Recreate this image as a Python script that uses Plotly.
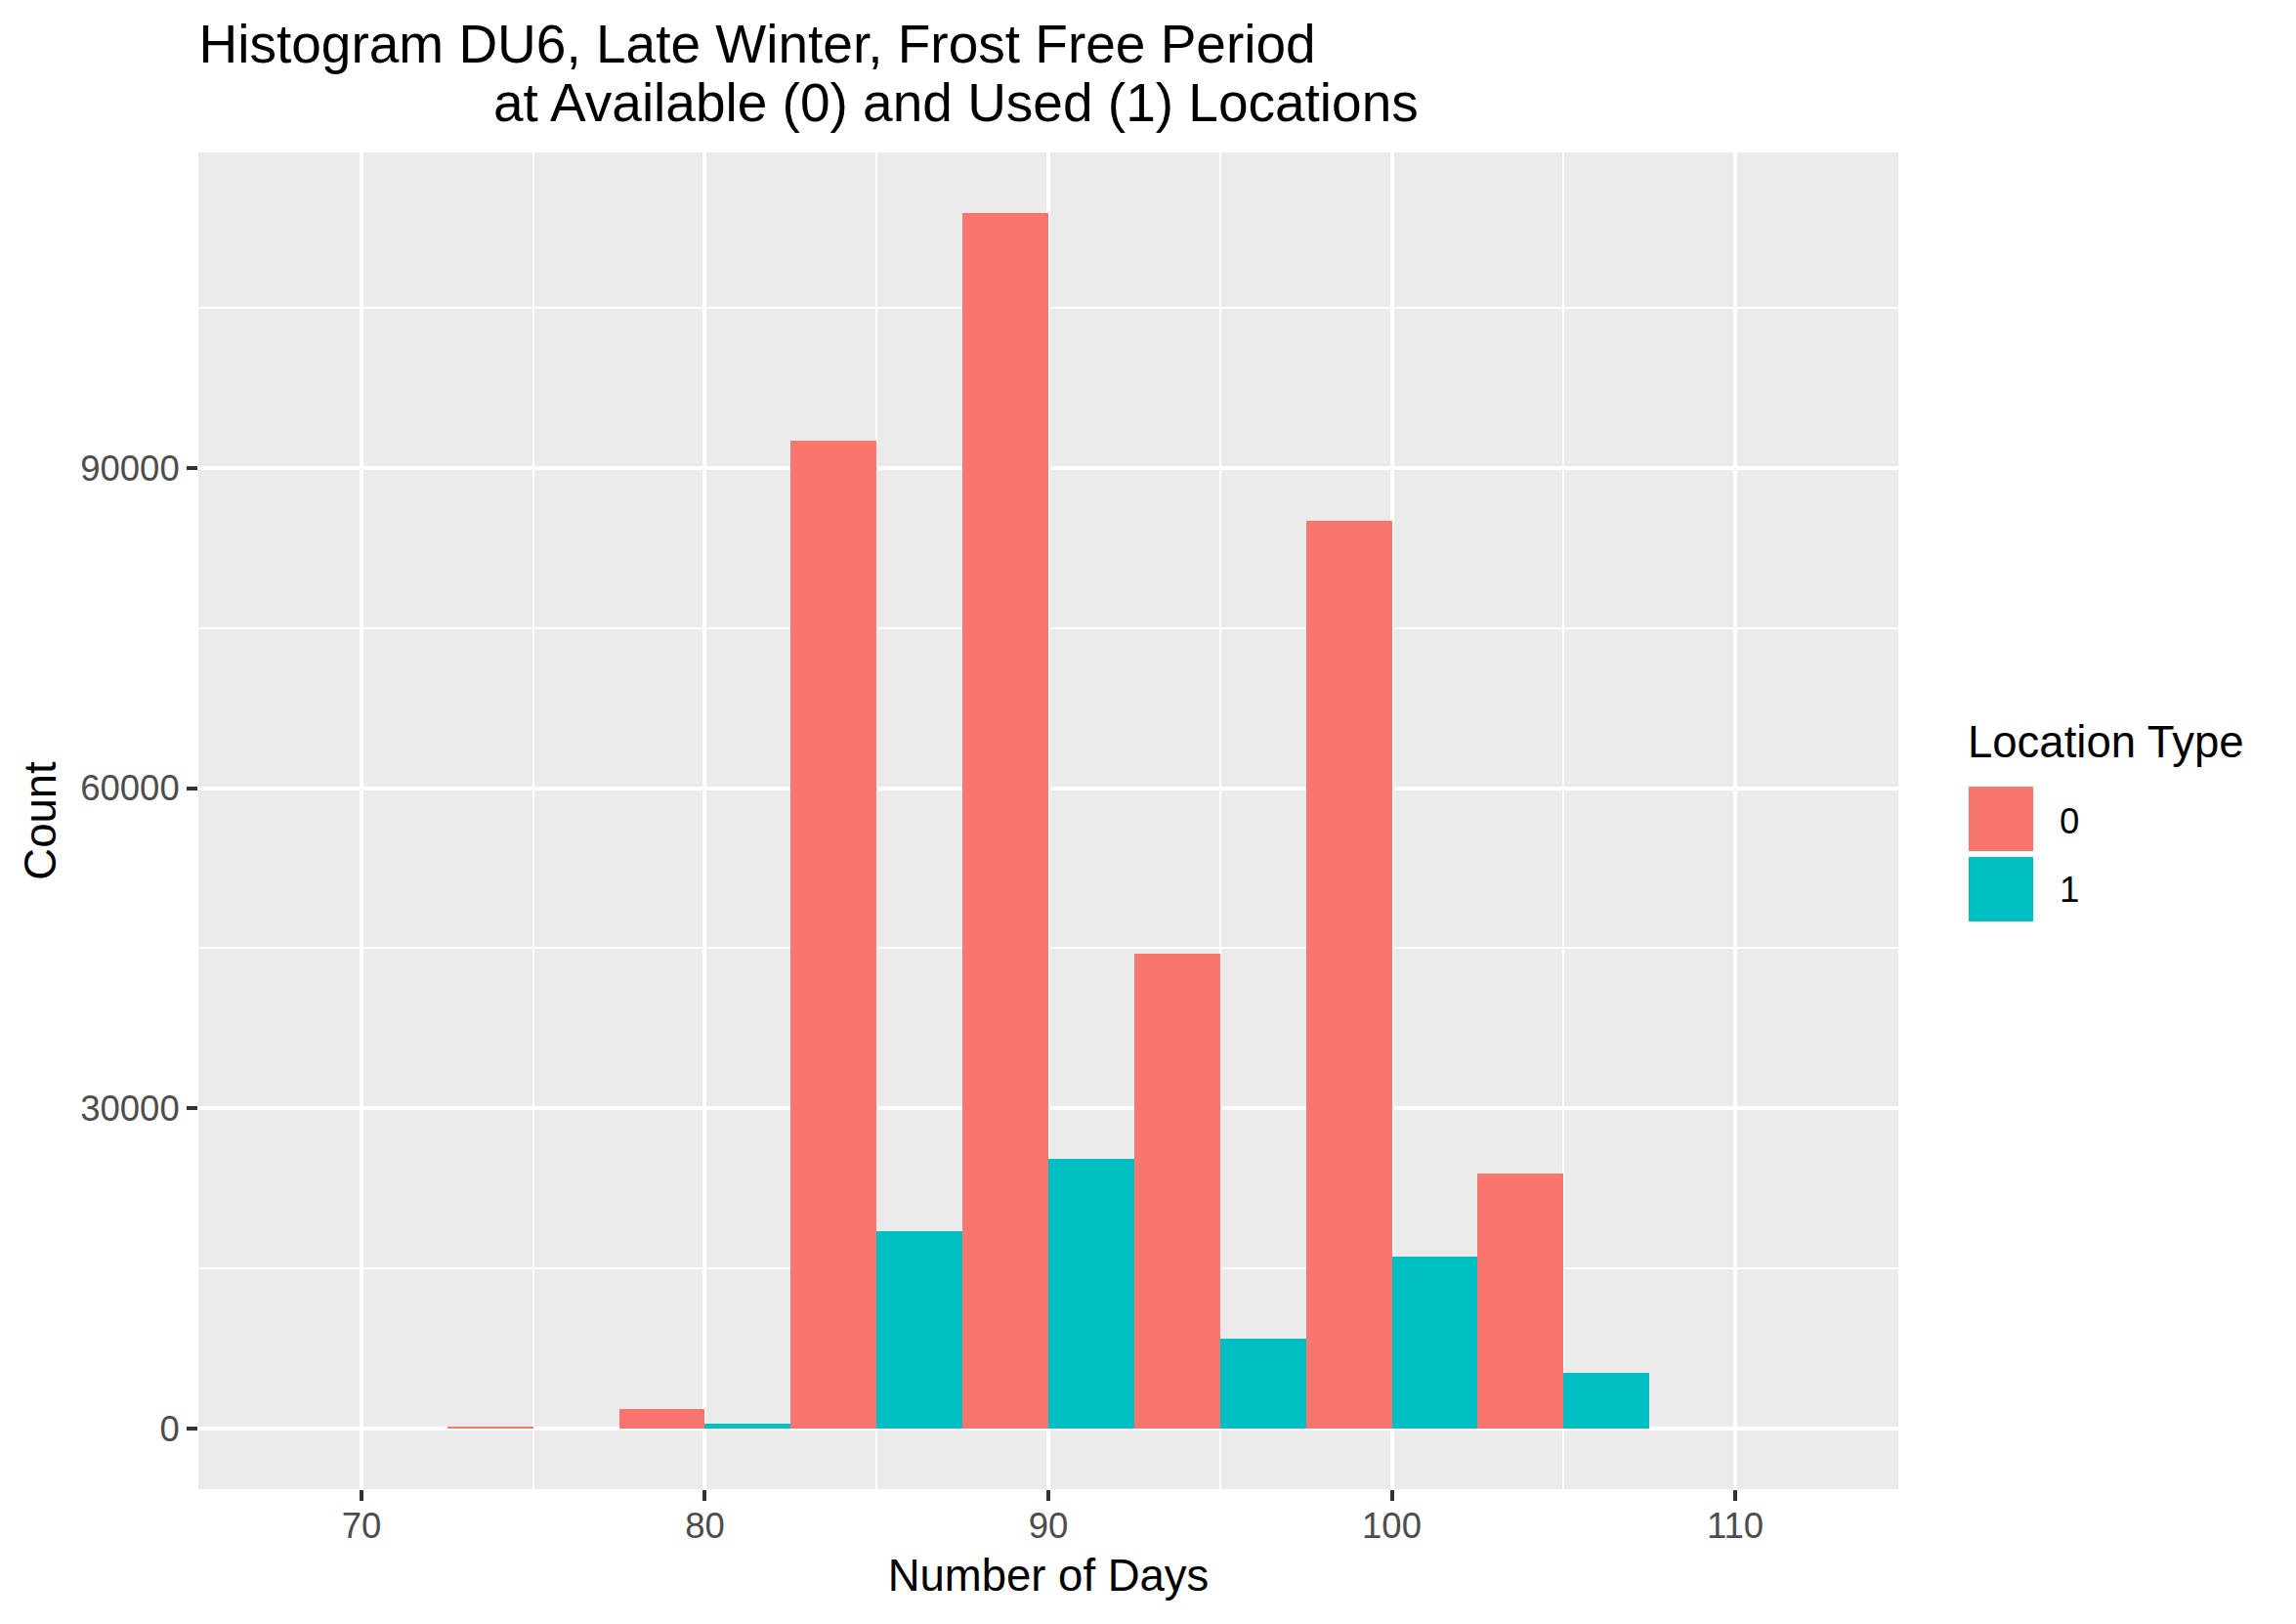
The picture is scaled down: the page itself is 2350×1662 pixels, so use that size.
import plotly.graph_objects as go

# histogram bins (bin centres, width 5 days) and counts per location type
bin_centres = [70, 75, 80, 85, 90, 95, 100, 105, 110]
counts_avail = [0, 100, 1800, 92540, 113870, 44470, 85030, 23870, 0]
counts_used = [0, 0, 480, 18470, 25240, 8400, 16090, 5190, 0]
group_names = ["0", "1"]
group_colors = ["#F8766D", "#00BFC4"]

x_ticks = [70, 80, 90, 100, 110]
y_ticks = [0, 30000, 60000, 90000]

FONT = "Liberation Sans, Arial, sans-serif"
W, H = 2350, 1662
L, R, T, B = 203, 407, 156, 138
PW, PH = W - L - R, H - T - B


def px_x(p):
    return (p - L) / PW


def px_y(p):
    return (H - B - p) / PH


fig = go.Figure()
for name, col, vals in zip(group_names, group_colors, [counts_avail, counts_used]):
    fig.add_trace(
        go.Bar(
            x=bin_centres,
            y=vals,
            name=name,
            marker={"color": col, "line": {"width": 0}},
            showlegend=False,
        )
    )

# ggplot-like legend, drawn by hand so the keys are big squares
fig.add_annotation(
    x=px_x(2012), y=px_y(759), xref="paper", yref="paper",
    text="Location Type", showarrow=False, xanchor="left", yanchor="middle",
    font={"size": 45.5, "color": "black", "family": FONT},
)
key_tops = [805, 877]
label_mid = [840, 911]
for col, name, kt, lm in zip(group_colors, group_names, key_tops, label_mid):
    fig.add_shape(
        type="rect", xref="paper", yref="paper",
        x0=px_x(2015), x1=px_x(2081), y0=px_y(kt + 66), y1=px_y(kt),
        fillcolor=col, line={"width": 0},
    )
    fig.add_annotation(
        x=px_x(2106), y=px_y(lm), xref="paper", yref="paper",
        text=name, showarrow=False, xanchor="left", yanchor="middle",
        font={"size": 36.5, "color": "black", "family": FONT},
    )

# second title line, indented as in the original
fig.add_annotation(
    x=px_x(503), y=px_y(104.5), xref="paper", yref="paper",
    text="at Available (0) and Used (1) Locations", showarrow=False,
    xanchor="left", yanchor="middle",
    font={"size": 55, "color": "black", "family": FONT},
)

fig.update_layout(
    width=W,
    height=H,
    margin={"l": L, "r": R, "t": T, "b": B, "autoexpand": False},
    paper_bgcolor="white",
    plot_bgcolor="#EBEBEB",
    barmode="group",
    bargap=0,
    bargroupgap=0,
    font={"family": FONT, "color": "black"},
    title={
        "text": "Histogram DU6, Late Winter, Frost Free Period",
        "xref": "container", "yref": "container",
        "x": 203.5 / W, "xanchor": "left",
        "y": 1 - 45.2 / H, "yanchor": "middle",
        "font": {"size": 55, "color": "black", "family": FONT},
    },
)
fig.update_xaxes(
    range=[65.25, 114.75],
    tickvals=x_ticks,
    ticks="outside", ticklen=11, tickwidth=4, tickcolor="#333333",
    tickfont={"size": 36.5, "color": "#4D4D4D", "family": FONT},
    ticklabelstandoff=-6,
    showgrid=True, gridcolor="white", gridwidth=4,
    minor={"showgrid": True, "gridcolor": "white", "gridwidth": 2, "tick0": 75, "dtick": 10},
    zeroline=False, showline=False,
    title={"text": "Number of Days", "standoff": 15,
           "font": {"size": 45.5, "color": "black", "family": FONT}},
    automargin=False,
)
fig.update_yaxes(
    range=[-5694, 119564],
    tickvals=y_ticks,
    ticktext=[str(v) for v in y_ticks],
    ticks="outside", ticklen=11, tickwidth=4, tickcolor="#333333",
    tickfont={"size": 36.5, "color": "#4D4D4D", "family": FONT},
    showgrid=True, gridcolor="white", gridwidth=4,
    minor={"showgrid": True, "gridcolor": "white", "gridwidth": 2, "tick0": 15000, "dtick": 30000},
    zeroline=False, showline=False,
    title={"text": "Count", "standoff": 10,
           "font": {"size": 45.5, "color": "black", "family": FONT}},
    automargin=False,
)
# the page body has a default 8px margin; drop it so the figure fills the window
fig.write_html(
    "out.html",
    config={"displayModeBar": False},
    post_script="document.body.style.margin='0px';",
)
